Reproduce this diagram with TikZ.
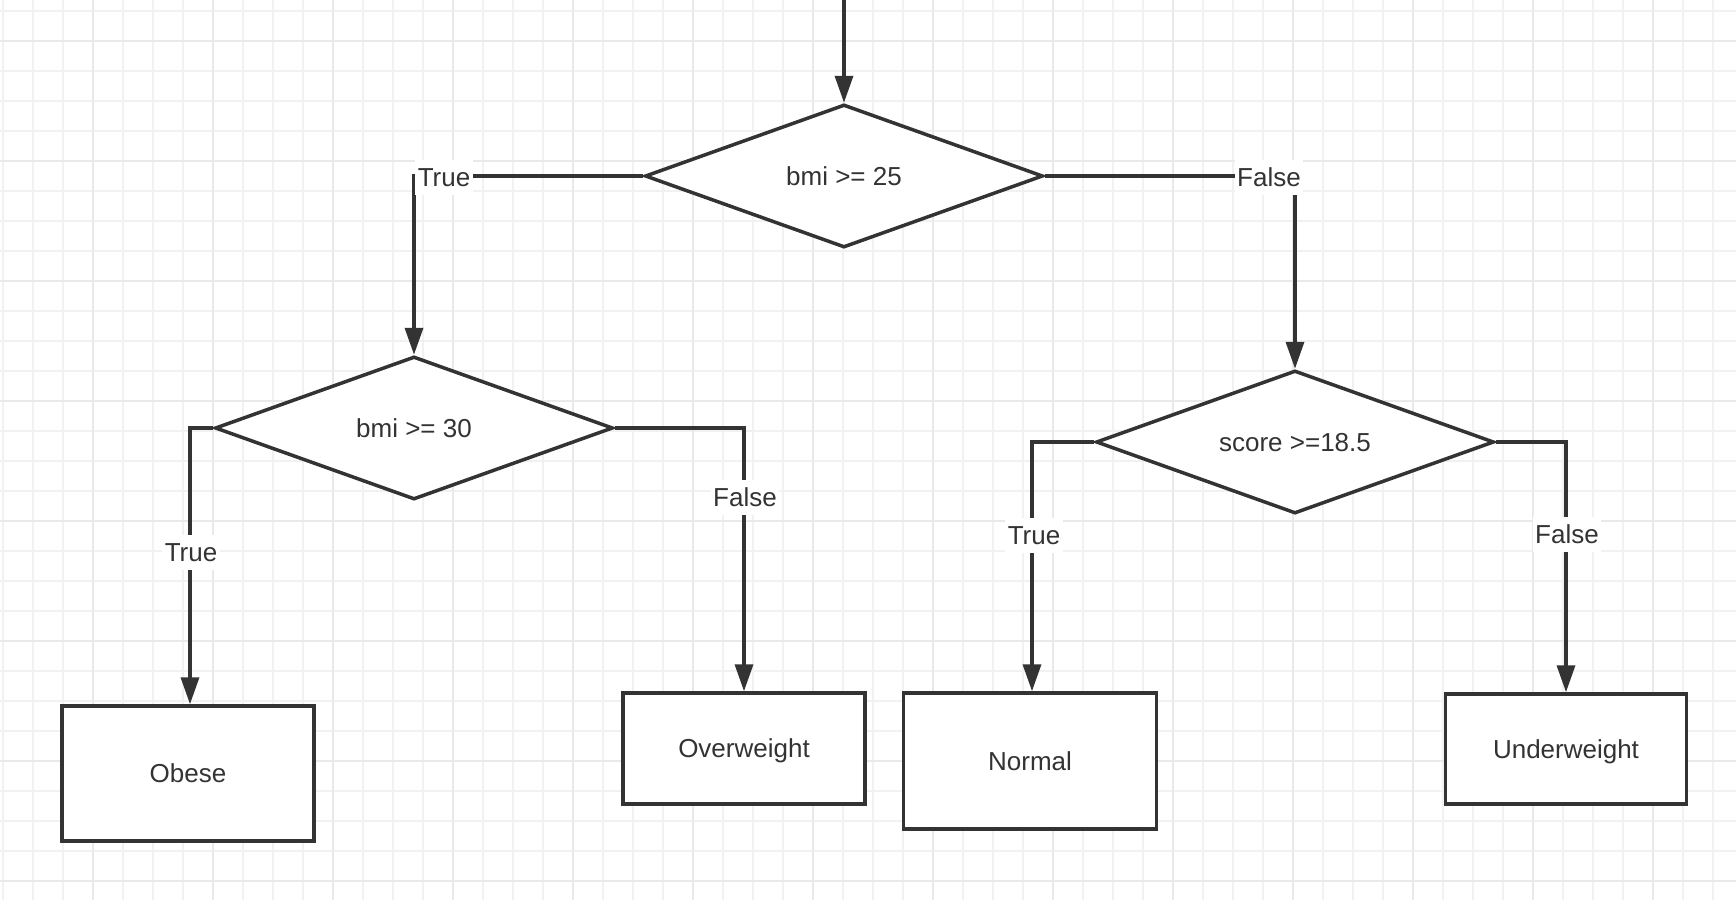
\documentclass[tikz,border=0pt]{standalone}
\usepackage{fontspec}
\setmainfont{Liberation Sans}
\usetikzlibrary{shapes.geometric,arrows.meta,calc}
\definecolor{ink}{HTML}{333333}
\definecolor{gridminor}{HTML}{F1F1F1}
\definecolor{gridmajor}{HTML}{E9E9E9}
\begin{document}
\begin{tikzpicture}[x=0.5pt,y=-0.5pt,
  font=\fontsize{13}{15}\selectfont,
  minorline/.style={draw=gridminor, line width=1pt},
  majorline/.style={draw=gridmajor, line width=1.1pt},
  decision/.style={diamond, aspect=2.8, draw=ink, line width=1.75pt, fill=white, text=ink, inner sep=0pt, minimum width=199pt, minimum height=71.5pt, text height=9.3pt, text depth=0pt},
  outcome/.style={rectangle, draw=ink, line width=1.75pt, fill=white, text=ink, inner sep=0pt, text height=9.3pt, text depth=0pt},
  conn/.style={draw=ink, line width=1.75pt, -{Triangle[length=13.5pt,width=9pt]}},
  lbl/.style={fill=white, text=ink, inner xsep=1.25pt, inner ysep=4.1pt, text height=9.3pt, text depth=0pt}
]
\fill[white] (0,0) rectangle (1736,900);
\useasboundingbox (0,0) rectangle (1736,900);
% grid
\foreach \k in {0,...,57} \draw[minorline] ({2.7+30*\k},0) -- ++(0,900);
\foreach \k in {0,...,29} \draw[minorline] (0,{11+30*\k}) -- ++(1736,0);
\foreach \k in {0,...,13} \draw[majorline] ({92.7+120*\k},0) -- ++(0,900);
\foreach \k in {0,...,7} \draw[majorline] (0,{41+120*\k}) -- ++(1736,0);

% nodes
\node[decision] (d1) at (844,176) {bmi >= 25};
\node[decision] (d2) at (414,428) {bmi >= 30};
\node[decision] (d3) at (1295,442) {score >=18.5};
\node[outcome, minimum width=126pt, minimum height=67.5pt] (obese) at (188,773.5) {Obese};
\node[outcome, minimum width=121pt, minimum height=55.5pt] (over) at (744,748.5) {Overweight};
\node[outcome, minimum width=126.5pt, minimum height=68pt] (normal) at (1030,761) {Normal};
\node[outcome, minimum width=120.5pt, minimum height=55pt] (under) at (1566,749) {Underweight};

% connectors
\coordinate (start) at (844,-4);
\draw[conn] (start) -- (d1.north);
\draw[conn] (d1.west) -| (d2.north);
\draw[conn] (d1.east) -| (d3.north);
\draw[conn] (d2.west) -| ($(obese.north)+(2,0)$);
\draw[conn] (d2.east) -| (over.north);
\draw[conn] (d3.west) -| ($(normal.north)+(2,0)$);
\draw[conn] (d3.east) -| (under.north);

% labels
\node[lbl] (l1) at (444,177.5) {True};
\node[lbl] (l2) at (1269,177.5) {False};
\node[lbl] (l3) at (191,552) {True};
\node[lbl] (l4) at (745,497) {False};
\node[lbl] (l5) at (1034,535) {True};
\node[lbl] (l6) at (1567,534) {False};
\end{tikzpicture}
\end{document}
